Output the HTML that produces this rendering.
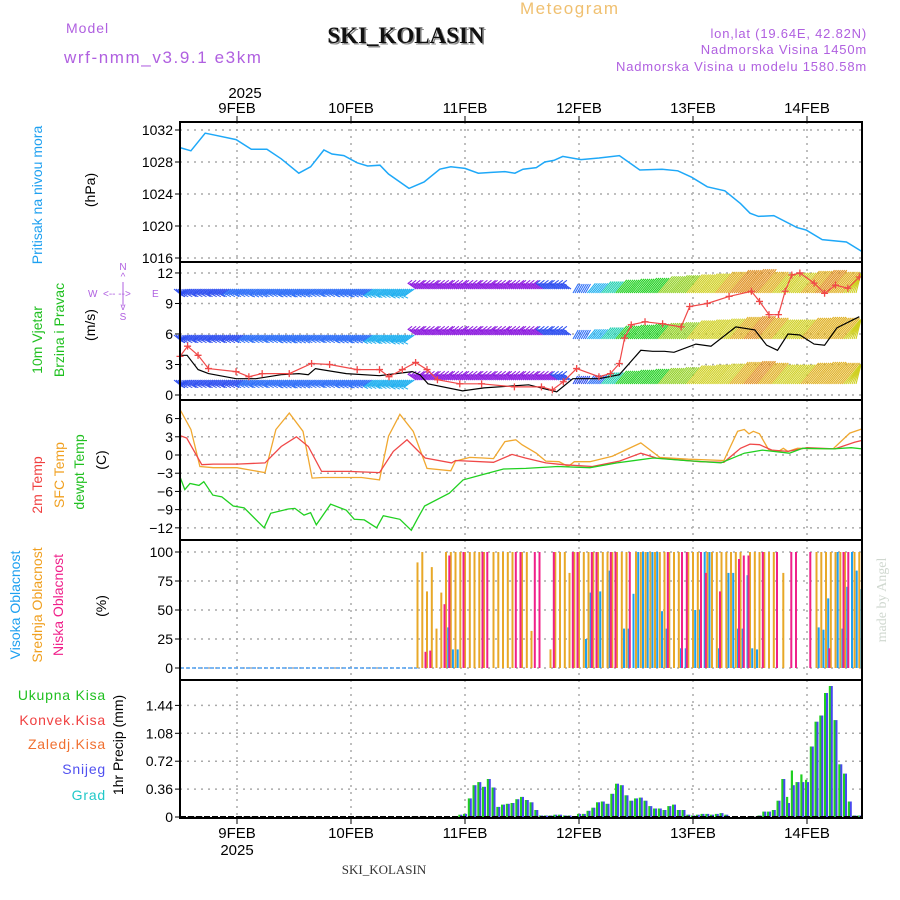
<!DOCTYPE html>
<html><head><meta charset="utf-8"><style>
html,body{margin:0;padding:0;background:#fff;}
svg{display:block;font-family:"Liberation Sans",sans-serif;}
</style></head><body>
<svg id="chart" width="900" height="900" viewBox="0 0 900 900">
<rect x="0" y="0" width="900" height="900" fill="#fff"/>
<g>
<text x="520" y="14" font-size="17" fill="#f0c070" letter-spacing="1.5">Meteogram</text>
<text x="66" y="33" font-size="14" fill="#b060e0" letter-spacing="1">Model</text>
<text x="64" y="63" font-size="17" fill="#b060e0" letter-spacing="1.6">wrf-nmm_v3.9.1 e3km</text>
<text x="406" y="43" font-size="23" font-weight="bold" font-family="Liberation Serif,serif" fill="#888" text-anchor="middle" transform="translate(1.5,1.5)">SKI_KOLASIN</text>
<text x="406" y="43" font-size="23" font-weight="bold" font-family="Liberation Serif,serif" fill="#111" text-anchor="middle">SKI_KOLASIN</text>
<text x="867" y="38" font-size="13" fill="#b060e0" text-anchor="end" letter-spacing="0.8">lon,lat (19.64E, 42.82N)</text>
<text x="867" y="54" font-size="13" fill="#b060e0" text-anchor="end" letter-spacing="0.8">Nadmorska Visina 1450m</text>
<text x="867" y="71" font-size="13" fill="#b060e0" text-anchor="end" letter-spacing="0.8">Nadmorska Visina u modelu 1580.58m</text>
</g>
<g id="plots"></g>
<g font-size="14">
<text transform="translate(42,195) rotate(-90)" text-anchor="middle" fill="#1ea0f0">Pritisak na nivou mora</text>
<text transform="translate(95,190) rotate(-90)" text-anchor="middle" fill="#000">(hPa)</text>
<text transform="translate(42,340) rotate(-90)" text-anchor="middle" fill="#20c020">10m Vjetar</text>
<text transform="translate(64,330) rotate(-90)" text-anchor="middle" fill="#20c020">Brzina i Pravac</text>
<text transform="translate(95,325) rotate(-90)" text-anchor="middle" fill="#000">(m/s)</text>
<g fill="#b060e0" font-size="10">
<text x="123" y="270" text-anchor="middle">N</text><text x="123" y="280" text-anchor="middle">^</text>
<text x="88" y="297">W</text><text x="103" y="297">&lt;-- --&gt;</text><text x="152" y="297">E</text>
<text x="123" y="310" text-anchor="middle">v</text><text x="123" y="320" text-anchor="middle">S</text>
<line x1="123" y1="282" x2="123" y2="306" stroke="#b060e0" stroke-width="1"/>
</g>
<text transform="translate(42,485) rotate(-90)" text-anchor="middle" fill="#f04040">2m Temp</text>
<text transform="translate(64,475) rotate(-90)" text-anchor="middle" fill="#f0a020">SFC Temp</text>
<text transform="translate(84,472) rotate(-90)" text-anchor="middle" fill="#20c020">dewpt Temp</text>
<text transform="translate(106,460) rotate(-90)" text-anchor="middle" fill="#000">(C)</text>
<text transform="translate(20,605) rotate(-90)" text-anchor="middle" fill="#1ea0f0">Visoka Oblacnost</text>
<text transform="translate(42,605) rotate(-90)" text-anchor="middle" fill="#f0a020">Srednja Oblacnost</text>
<text transform="translate(63,605) rotate(-90)" text-anchor="middle" fill="#f0208a">Niska Oblacnost</text>
<text transform="translate(106,606) rotate(-90)" text-anchor="middle" fill="#000">(%)</text>
<g text-anchor="end" letter-spacing="0.8">
<text x="106" y="700" fill="#20c020">Ukupna Kisa</text>
<text x="106" y="725" fill="#f04040">Konvek.Kisa</text>
<text x="106" y="749" fill="#f07030">Zaledj.Kisa</text>
<text x="106" y="774" fill="#5050f0">Snijeg</text>
<text x="106" y="800" fill="#20c8c8">Grad</text>
</g>
<text transform="translate(123,745) rotate(-90)" text-anchor="middle" fill="#000">1hr Precip (mm)</text>
</g>
<text transform="translate(886,600) rotate(-90)" text-anchor="middle" font-family="Liberation Serif,serif" font-size="14" fill="#d0d8d0">made by Angel</text>
<text x="384" y="874" text-anchor="middle" font-family="Liberation Serif,serif" font-size="13" fill="#333">SKI_KOLASIN</text>
</svg>
<script>
const dayLabels = ["9FEB","10FEB","11FEB","12FEB","13FEB","14FEB"];
const dayHours = [12,36,60,84,108,132];
const pressTicks = [1032,1028,1024,1020,1016];
const windTicks = [12,9,6,3,0];
const tempTicks = [6,3,0,-3,-6,-9,-12];
const cloudTicks = [100,75,50,25,0];
const precipTicks = [1.44,1.08,0.72,0.36,0];
const precipTickLabels = ["1.44","1.08","0.72","0.36","0"];

const pressHours = [0,2.3,5.3,7,11.8,15,18.3,21.3,25,27.5,30.3,32,34.5,37.3,39.5,42.1,43.9,48.2,51.4,54.7,57,60,62.8,65.6,68.4,70.5,72.2,75,76.8,78.7,80.6,84.4,88.2,92.5,96.8,101.5,104.8,107.7,111,114.7,118,120,121.8,125,129.9,131.8,135.2,140.3,143.6];
const pressVals = [1029.8,1029.4,1031.6,1031.4,1030.8,1029.6,1029.6,1028.4,1026.6,1027.4,1029.5,1029.0,1028.8,1027.9,1027.5,1027.6,1026.5,1024.7,1025.5,1027.1,1027.4,1027.2,1026.6,1026.7,1026.8,1026.6,1027.1,1027.3,1028.0,1028.2,1028.7,1028.3,1028.5,1028.8,1027.0,1027.1,1026.9,1026.1,1024.9,1024.4,1022.8,1021.6,1021.2,1021.3,1019.8,1019.5,1018.3,1018.0,1016.8];

const speedHours = [0,1.5,3.8,6,11.8,16,21.3,25,27,28.5,35,42,48.9,50.5,52.2,59.5,64,73.4,79.3,82.7,88.2,92.5,97,99.5,102,104,108.6,111.8,117,121,123.5,125.8,128,130.5,133.5,135.7,138.3,143];
const speedVals = [3.9,3.9,2.5,2.1,1.6,1.6,2.0,2.1,2.0,2.6,2.1,1.9,2.3,2.0,1.1,0.4,0.7,1.0,0.3,1.6,1.6,2.0,4.4,4.3,4.3,4.2,5.0,4.8,6.7,6.4,4.9,4.4,6.0,5.9,5.0,4.9,6.6,7.7];
const gustHours = [0,1.6,3.8,6,11.8,14.5,17.3,23,27.7,31.5,37.3,42,44,46.8,49.6,52,54.2,58.9,63.5,70.4,76.1,78.4,80.7,83.5,88.2,90.6,92.5,93.6,95,97.9,101.6,105.5,107.3,111,115.6,120.3,122,124,126,127.4,128.8,130.5,133.5,135.7,138,140.6,143];
const gustVals = [3.8,4.8,3.9,2.6,2.3,1.8,2.1,2.1,3.1,3.0,2.5,2.5,1.8,2.5,3.2,2.5,1.5,1.1,1.1,0.8,0.8,0.5,1.3,2.6,1.8,2.1,3.1,5.6,6.9,7.2,7.0,6.7,8.7,9.0,9.7,10.2,9.2,7.9,7.9,10.2,11.8,12.0,11.0,10.0,10.8,10.5,11.6];

const windHours = [0,3,6,9,12,15,18,21,24,27,30,33,36,39,42,45,48,51,54,57,60,63,66,69,72,75,78,81,84,87,90,93,96,99,102,105,108,111,114,117,120,123,126,129,132,135,138,141];
const windRow1Speed = [4,4,4,4,4.5,4.5,5,4.5,5,5,4.5,4.5,5,5,5.5,5.5,6,2.5,2.5,2.5,2.5,2.5,2.5,2.5,2.5,2.5,3,4,4.5,5.5,6.5,7.5,8,8.5,9.5,10,10.5,11,12,13,13.5,12,11,11.5,12.5,13,12,11];
const windRow2Speed = [4,4,4,3.5,4,4.5,4.5,4.5,5,5,4.5,4.5,5,5,5.5,5.5,6,2.5,2.5,2.5,2.5,2.5,2.5,2.5,2.5,2.5,3,4,4.5,5.5,6.5,7.5,8,8.5,9,9.5,10.5,11,11.5,12.5,13,12,11,11,12,12.5,12,11];
const windRow3Speed = [4,4,4,4,4,4.5,4.5,4.5,5,5,4.5,4.5,5,5,5.5,5.5,6,2.5,2.5,2.5,2.5,2.5,2.5,2.5,2.5,2.5,2.5,3,4,5,6.5,7.5,8,8.5,9,9.5,10.5,11,11.5,12.5,13,12,11,11,12,12.5,12,11];
const windDir = [215,215,215,215,215,215,215,215,215,215,215,215,215,215,215,215,215,145,145,145,145,145,145,145,145,145,145,145,60,50,50,50,50,50,50,50,50,50,50,50,50,50,50,50,50,50,50,50];

const sfcHours = [0,2.3,4.2,7,12,17.9,20.2,23,25.9,27.8,30,38.2,42,43.9,46.3,49.1,52,57,58,61,63.8,66,68.4,70.7,72,75,77,79.8,81.7,83,86.3,91,97,101,107,114.5,117.4,118.8,119.8,120.7,122,123.9,126,127,128,130,137.5,141,143.6];
const sfcVals = [7.5,4.2,-1.9,-2.1,-2.1,-2.9,4.2,6.9,3.9,-3.8,-3.7,-3.7,-4.1,3.1,6.7,3.9,-2.2,-2.6,-1.0,-0.4,-0.5,-0.6,2.2,2.5,1.7,0.3,-1.0,-1.1,-1.9,-1.1,-1.1,-0.2,2.0,-0.4,-0.7,-0.9,3.9,4.2,3.5,3.9,3.5,0.9,0.6,1.1,0.6,1.1,1.0,3.6,4.3];
const t2Hours = [0,1.4,4.6,7,12,17.9,21.3,24.5,27,29.8,35.5,42,44.9,47.8,51.6,57.2,58,66,69.9,72.7,77,80.7,86.8,92.5,97,100.3,109.5,114.5,118,120,122,124.6,128,132,137.9,142,143.6];
const t2Vals = [3.2,2.8,-1.6,-1.5,-1.5,-1.3,1.4,3.0,1.4,-2.7,-2.7,-2.9,0.6,2.5,-0.5,-1.3,-0.9,-1.2,0.1,-0.5,-1.3,-1.6,-1.9,-1.0,0.3,-0.5,-1.1,-1.2,1.1,1.8,1.7,0.8,0.6,1.2,1.0,2.1,2.4];
const dewHours = [0,1,2.1,4,5,6.9,8.8,11.2,13.5,17.7,19.1,22.8,24.2,26.1,27.5,28.7,31.7,35,36.7,38.8,41.4,42.8,46.3,48.7,50,51.5,56.7,59.6,63.4,68.1,72.8,79.5,86.3,92,99.6,106.3,113.9,118.8,122.6,128.3,131.1,137.5,141.3,143.6];
const dewVals = [-3.6,-5.7,-4.7,-5.0,-4.4,-6.6,-6.9,-8.4,-8.7,-12.0,-9.6,-8.9,-8.8,-9.9,-9.5,-11.5,-8.1,-9.1,-10.6,-10.7,-12.0,-10.0,-10.6,-12.4,-10.5,-8.4,-6.3,-4.1,-3.3,-2.3,-2.2,-1.9,-2.1,-1.3,-0.5,-0.9,-1.3,0.3,0.8,0.3,1.1,1.0,1.2,1.0];

const lowHours = [52,53,56,57,60,64,65,71,72,75,76,79,83,84,87,88,91,92,95,103,106,107,110,111,114,118,119,120,123,126,129,130,133,137,140,141];
const lowVals = [14,15,55,97,100,100,100,100,100,100,100,100,100,100,100,100,100,100,100,100,100,100,100,82,66,94,97,97,100,100,100,100,100,17,100,100];
const midHours = [50,51,52,53,54,55,56,57,58,59,60,61,62,63,64,66,67,68,69,70,72,73,74,78,79,80,81,82,83,84,85,86,87,88,89,90,91,92,93,94,96,97,98,99,100,101,102,103,104,105,107,108,109,111,112,113,114,115,116,117,118,120,121,122,123,124,125,127,134,135,136,137,138,139,140,142,143];
const midVals = [91,100,66,87,34,65,100,100,100,100,100,100,100,100,100,100,100,100,100,100,100,100,32,16,100,100,100,82,100,100,100,100,100,100,100,100,100,100,100,100,100,100,100,100,100,100,100,100,100,100,100,100,100,100,100,100,100,100,100,100,100,100,100,100,100,100,100,82,100,100,100,100,100,100,100,100,100];
const highHours = [56,57,58,85,86,88,90,93,94,95,96,97,98,99,100,101,102,105,106,108,109,110,111,113,115,116,117,118,119,120,121,134,135,136,138,139,140,141,142,143];
const highVals = [35,16,16,25,65,66,84,34,34,64,100,100,100,100,100,49,34,17,17,50,50,100,100,17,82,82,34,34,80,17,16,35,33,60,100,34,70,100,84,68];

const precipHours = [59,60,61,62,63,64,65,66,67,68,69,70,71,72,73,74,75,76,77,78,79,80,81,82,84,85,86,87,88,89,90,91,92,93,94,95,96,97,98,99,100,101,102,103,104,105,106,107,108,109,110,111,112,113,114,115,122,123,124,125,126,127,128,129,130,131,132,133,134,135,136,137,138,139,140,141,142,143];
const precipTotal = [0.03,0.04,0.24,0.41,0.45,0.39,0.49,0.38,0.13,0.16,0.17,0.18,0.23,0.26,0.22,0.19,0.09,0.02,0.02,0.02,0.03,0.03,0.02,0.02,0.04,0.04,0.08,0.12,0.19,0.2,0.17,0.3,0.43,0.41,0.28,0.21,0.24,0.25,0.21,0.14,0.11,0.11,0.09,0.14,0.16,0.09,0.09,0.03,0.02,0.03,0.04,0.04,0.03,0.04,0.05,0.03,0.02,0.07,0.07,0.09,0.21,0.49,0.26,0.6,0.45,0.55,0.48,0.91,1.23,1.31,1.6,1.69,1.25,0.68,0.56,0.2,0.02,0.02];
const precipSnow = [0.03,0.04,0.24,0.41,0.45,0.39,0.49,0.38,0.13,0.16,0.17,0.18,0.23,0.26,0.22,0.19,0.09,0.02,0.02,0.02,0.03,0.03,0.02,0.02,0.04,0.04,0.08,0.12,0.19,0.2,0.17,0.3,0.43,0.41,0.28,0.21,0.24,0.25,0.21,0.14,0.11,0.11,0.09,0.14,0.16,0.09,0.09,0.03,0.02,0.03,0.04,0.04,0.03,0.04,0.05,0.03,0.02,0.07,0.07,0.09,0.21,0.49,0.18,0.41,0.45,0.45,0.45,0.91,1.23,1.31,1.6,1.69,1.25,0.68,0.56,0.2,0.02,0.02];

const NS = "http://www.w3.org/2000/svg";
const X0 = 180, X1 = 862, PXH = 4.75;
function X(h){ return X0 + h*PXH; }
const Yp = p => 130 + (1032-p)*8;
const Yw = s => 395 - s*10.17;
const Yt = t => 455 - t*6.07;
const Yc = c => 668 - c*1.16;
const Yr = v => 817 - v*77.5;
const panels = [[122,262],[262,400],[400,540],[540,680],[680,818]];
const root = document.getElementById('plots');
function el(tag, attrs, parent){
  const e = document.createElementNS(NS, tag);
  for (const k in attrs) e.setAttribute(k, attrs[k]);
  (parent||root).appendChild(e);
  return e;
}
function gridAndAxis(pi, ticks, labels, yf, name){
  const [t,b] = panels[pi];
  const g = el('g', {});
  
  
  dayHours.forEach(h => {
    el('line', {x1:X(h), x2:X(h), y1:t, y2:b, stroke:'#aaa', 'stroke-width':1.5, 'stroke-dasharray':'2,5'}, g);
  });
  ticks.forEach((v,i) => {
    const y = yf(v);
    el('line', {x1:X0, x2:X1, y1:y, y2:y, stroke:'#aaa', 'stroke-width':1.5, 'stroke-dasharray':'2,5'}, g);
    el('line', {x1:X0-5, x2:X0, y1:y, y2:y, stroke:'#000', 'stroke-width':1}, g);
    const tx = el('text', {x:X0-7, y:y+5, 'font-size':14, 'text-anchor':'end', fill:'#000'}, g);
    tx.textContent = labels ? labels[i] : String(v).replace('-', '\u2212');
  });
}
function polyline(hs, vs, yf, color, name, w){
  const pts = hs.map((h,i) => X(h).toFixed(1)+','+yf(vs[i]).toFixed(1)).join(' ');
  const p = el('polyline', {points:pts, fill:'none', stroke:color, 'stroke-width':w||1.3});
  
  
  return p;
}
gridAndAxis(0, pressTicks, null, Yp, 'pressure');
gridAndAxis(1, windTicks, null, Yw, 'wind');
gridAndAxis(2, tempTicks, null, Yt, 'temperature');
gridAndAxis(3, cloudTicks, null, Yc, 'cloud');
gridAndAxis(4, precipTicks, precipTickLabels, Yr, 'precip');

polyline(pressHours, pressVals, Yp, '#1ea8f8', 'pressure-line', 1.5);

function windColor(s){
  if (s < 3) return '#9020e0';
  if (s < 4.2) return '#3050f0';
  if (s < 5.2) return '#3070f8';
  if (s < 6.2) return '#20b0f0';
  if (s < 7.2) return '#20d0b0';
  if (s < 9) return '#20d020';
  if (s < 10.5) return '#90d020';
  if (s < 12) return '#d0d020';
  if (s < 13) return '#e0b020';
  return '#e09020';
}
const rowBase = [291, 337, 382];
[windRow1Speed, windRow2Speed, windRow3Speed].forEach((row, ri) => {
  const g = el('g', {});
  
  
  row.forEach((s, i) => {
    const h = windHours[i];
    const a = windDir[i] * Math.PI/180;
    const late = windDir[i] < 90;
    const L = late ? s*2.3 : Math.max(10, s*2.1);
    const c = windColor(s);
    for (let k = 0; k < 7; k++) {
      const bx = X(h) - 6 + k*2.05;
      if (bx > X1 - 1) break;
      let by = rowBase[ri] + (late ? 2 : -2);
      let ex = bx + Math.cos(a)*L, ey = by - Math.sin(a)*L;
      ex = Math.min(Math.max(ex, X0+1), X1 - 1);
      const ln = el('line', {x1:bx.toFixed(1), y1:by.toFixed(1), x2:ex.toFixed(1), y2:ey.toFixed(1), stroke:c, 'stroke-width':1.1}, g);
      
      
      if (!late && k % 2 === 0) {
        const hd = el('path', {d:`M${(ex+4).toFixed(1)},${(ey-3).toFixed(1)}L${ex.toFixed(1)},${ey.toFixed(1)}L${(ex+4).toFixed(1)},${(ey+2).toFixed(1)}`, fill:'none', stroke:c, 'stroke-width':1}, g);
        
        
      }
    }
  });
});
polyline(speedHours, speedVals, Yw, '#000', 'wind-speed-line', 1.2);
polyline(gustHours, gustVals, Yw, '#f04848', 'wind-gust-line', 1.2);
gustHours.forEach((h,i) => {
  const x = X(h), y = Yw(gustVals[i]);
  const m = el('path', {d:`M${x-3.5},${y}H${x+3.5}M${x},${y-3.5}V${y+3.5}`, stroke:'#f04848', 'stroke-width':1.3});
  
  
});

polyline(sfcHours, sfcVals, Yt, '#f0a830', 'sfc-temp-line', 1.3);
polyline(t2Hours, t2Vals, Yt, '#f04848', 'temp-2m-line', 1.3);
polyline(dewHours, dewVals, Yt, '#20d020', 'dewpoint-line', 1.3);

const base0 = el('line', {x1:X0, x2:X(50), y1:Yc(0), y2:Yc(0), stroke:'#50a0f0', 'stroke-width':1.5, 'stroke-dasharray':'4,2'});


function cloudBars(hs, vs, color, off, name){
  hs.forEach((h,i) => {
    const r = el('rect', {x:(X(h)+off).toFixed(1), y:Yc(vs[i]).toFixed(1), width:2, height:(Yc(0)-Yc(vs[i])).toFixed(1), fill:color});
    
    
  });
}
cloudBars(midHours, midVals, '#e8a828', -1, 'mid-cloud-bar');
cloudBars(highHours, highVals, '#1ea0f0', 1.2, 'high-cloud-bar');
cloudBars(lowHours, lowVals, '#f0208a', -2.5, 'low-cloud-bar');

precipHours.forEach((h,i) => {
  const g = el('rect', {x:(X(h)-2).toFixed(1), y:Yr(precipTotal[i]).toFixed(1), width:2.2, height:(Yr(0)-Yr(precipTotal[i])).toFixed(1), fill:'#20d020'});
  
  
  const b = el('rect', {x:(X(h)).toFixed(1), y:Yr(precipSnow[i]).toFixed(1), width:2, height:(Yr(0)-Yr(precipSnow[i])).toFixed(1), fill:'#4848f0'});
  
  
});
const pz = el('line', {x1:X0, x2:X1, y1:817, y2:817, stroke:'#000', 'stroke-width':2, 'stroke-dasharray':'6,2'});



panels.forEach((p,i) => {
  const r = el('rect', {x:X0, y:p[0], width:X1-X0, height:p[1]-p[0], fill:'none', stroke:'#000', 'stroke-width':2});
  
  
});

dayHours.forEach((h,i) => {
  const x = X(h);
  el('line', {x1:x, x2:x, y1:116, y2:122, stroke:'#000', 'stroke-width':1});
  el('line', {x1:x, x2:x, y1:818, y2:824, stroke:'#000', 'stroke-width':1});
  const t1 = el('text', {x:x, y:113, 'font-size':15, 'text-anchor':'middle', fill:'#000'});
  t1.textContent = dayLabels[i];
  
  
  const t2 = el('text', {x:x, y:838, 'font-size':15, 'text-anchor':'middle', fill:'#000'});
  t2.textContent = dayLabels[i];
  
  
});
const y1 = el('text', {x:X(12)+8, y:98, 'font-size':15, 'text-anchor':'middle', fill:'#000'});
y1.textContent = '2025';


const y2 = el('text', {x:X(12), y:855, 'font-size':15, 'text-anchor':'middle', fill:'#000'});
y2.textContent = '2025';


</script>
</body></html>
